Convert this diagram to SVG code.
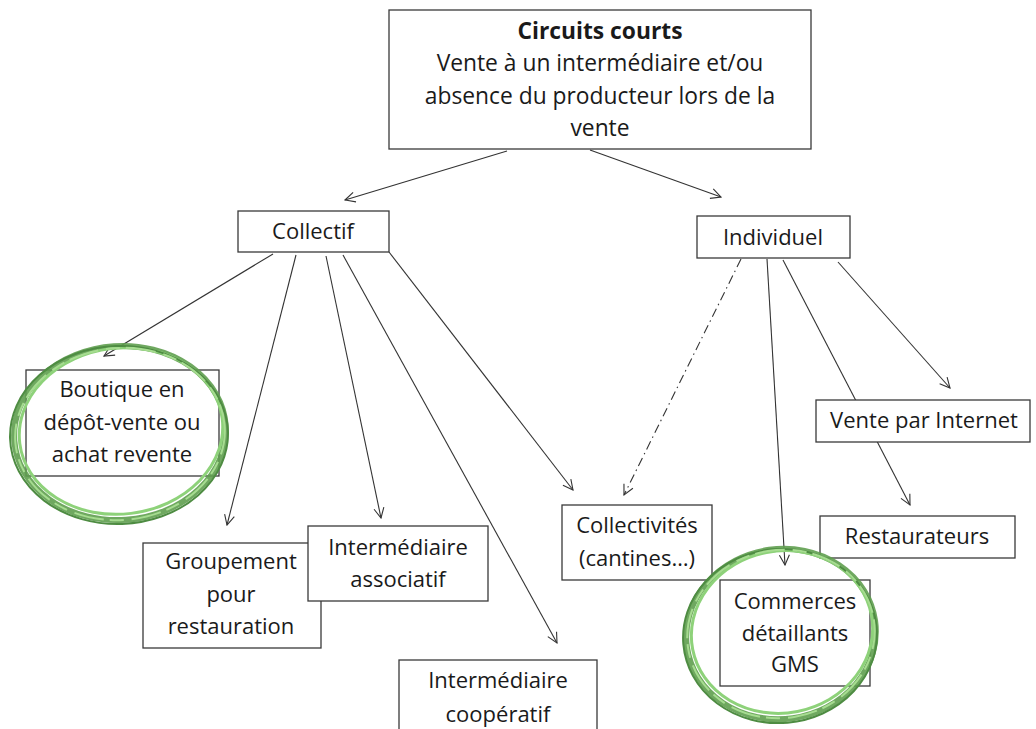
<svg xmlns="http://www.w3.org/2000/svg" width="1036" height="729" viewBox="0 0 1036 729">
<style>
.box{fill:#fff;stroke:#3a3a3a;stroke-width:1.3}
.t{font-family:"Open Sans","Liberation Sans",Arial,sans-serif;font-size:22px;fill:#1a1a1a;text-anchor:middle}
.h{font-size:22.8px}
.b{font-weight:bold}
.c{stroke:#333;stroke-width:1.1;fill:none;marker-end:url(#arr)}
.d{stroke-dasharray:9,4,1.5,4}
.g1{fill:none;stroke:#5f9e4f;stroke-width:6;opacity:0.9}
.g2{fill:none;stroke:#8ed27a;stroke-width:3}
.g3{fill:none;stroke:#4e8c42;stroke-width:2}
.g4{fill:none;stroke:#a6dc90;stroke-width:2;stroke-dasharray:30,8,14,6}
</style>
<defs>
<marker id="arr" viewBox="0 0 12 12" refX="11" refY="6" markerWidth="12" markerHeight="12" markerUnits="userSpaceOnUse" orient="auto">
<path d="M1,1 L11,6 L1,11" fill="none" stroke="#333" stroke-width="1.1"/>
</marker>
</defs>
<rect width="1036" height="729" fill="#fff"/>
<g id="connectors">
<line class="c" x1="507" y1="151" x2="345" y2="200"/>
<line class="c" x1="590" y1="150" x2="721" y2="197"/>
<line class="c" x1="273" y1="254" x2="104" y2="356"/>
<line class="c" x1="296" y1="255" x2="227" y2="525"/>
<line class="c" x1="326" y1="256" x2="381" y2="518"/>
<line class="c" x1="343" y1="255" x2="557" y2="643"/>
<line class="c" x1="389" y1="252" x2="573" y2="490"/>
<line class="c d" x1="741" y1="259" x2="624" y2="495"/>
<line class="c" x1="767" y1="259" x2="785" y2="565"/>
<line class="c" x1="783" y1="260" x2="910" y2="505"/>
<line class="c" x1="838" y1="262" x2="950" y2="388"/>
</g>
<g id="n-top">
<rect class="box" x="389" y="10" width="422" height="139"/>
<text class="t h b" x="600" y="39">Circuits courts</text>
<text class="t h" x="600" y="71">Vente à un intermédiaire et/ou</text>
<text class="t h" x="600" y="104">absence du producteur lors de la</text>
<text class="t h" x="600" y="136">vente</text>
</g>
<g id="n-collectif">
<rect class="box" x="238" y="211" width="151" height="41"/>
<text class="t" x="313" y="239">Collectif</text>
</g>
<g id="n-individuel">
<rect class="box" x="697" y="216" width="153" height="42"/>
<text class="t" x="773" y="245">Individuel</text>
</g>
<g id="n-boutique">
<rect class="box" x="26" y="370" width="193" height="106"/>
<text class="t" x="122" y="397">Boutique en</text>
<text class="t" x="122" y="430">dépôt-vente ou</text>
<text class="t" x="122" y="462">achat revente</text>
</g>
<g id="n-groupement">
<rect class="box" x="143" y="543" width="178" height="105"/>
<text class="t" x="231" y="569">Groupement</text>
<text class="t" x="231" y="602">pour</text>
<text class="t" x="231" y="634">restauration</text>
</g>
<g id="n-associatif">
<rect class="box" x="308" y="526" width="180" height="75"/>
<text class="t" x="398" y="555">Intermédiaire</text>
<text class="t" x="398" y="587">associatif</text>
</g>
<g id="n-cooperatif">
<rect class="box" x="399" y="660" width="198" height="80"/>
<text class="t" x="498" y="688">Intermédiaire</text>
<text class="t" x="498" y="722">coopératif</text>
</g>
<g id="n-collectivites">
<rect class="box" x="562" y="505" width="150" height="75"/>
<text class="t" x="637" y="533">Collectivités</text>
<text class="t" x="637" y="566">(cantines…)</text>
</g>
<g id="n-internet">
<rect class="box" x="816" y="400" width="214" height="42"/>
<text class="t" x="924" y="428">Vente par Internet</text>
</g>
<g id="n-restaurateurs">
<rect class="box" x="820" y="516" width="195" height="42"/>
<text class="t" x="917" y="544">Restaurateurs</text>
</g>
<g id="n-commerces">
<rect class="box" x="720" y="580" width="150" height="106"/>
<text class="t" x="795" y="609">Commerces</text>
<text class="t" x="795" y="641">détaillants</text>
<text class="t" x="795" y="672">GMS</text>
</g>
<g id="highlights">
<ellipse class="g1" cx="120" cy="433" rx="106" ry="87" transform="rotate(-4 120 433)"/>
<ellipse class="g2" cx="121" cy="431" rx="102" ry="83" transform="rotate(-7 121 431)"/>
<ellipse class="g3" cx="119" cy="435" rx="109" ry="89" transform="rotate(-2 119 435)"/>
<ellipse class="g4" cx="120" cy="434" rx="105" ry="86" transform="rotate(-5 120 434)"/>
<ellipse class="g1" cx="781" cy="634" rx="95" ry="85" transform="rotate(-8 781 634)"/>
<ellipse class="g2" cx="782" cy="632" rx="91" ry="81" transform="rotate(-11 782 632)"/>
<ellipse class="g3" cx="780" cy="636" rx="97" ry="87" transform="rotate(-5 780 636)"/>
<ellipse class="g4" cx="781" cy="634" rx="94" ry="84" transform="rotate(-9 781 634)"/>
</g>
</svg>
